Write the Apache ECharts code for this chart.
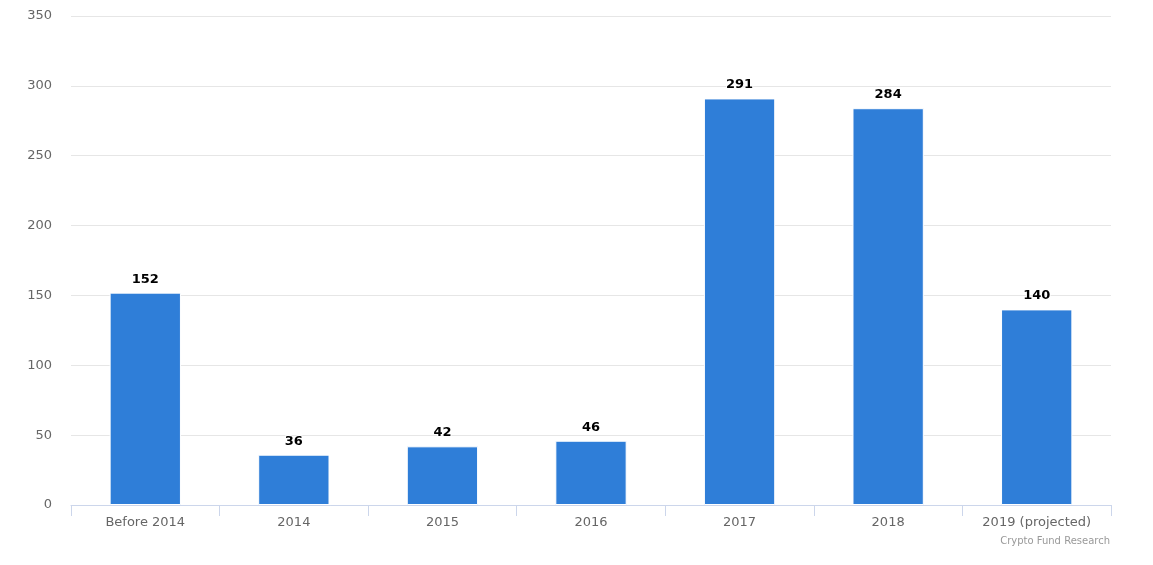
<!DOCTYPE html>
<html>
<head>
<meta charset="utf-8">
<script src="https://cdn.jsdelivr.net/npm/echarts@6/dist/echarts.min.js"></script>
<style>
html,body{margin:0;padding:0;background:#fff;}
#chart{width:1153px;height:565px;}
</style>
</head>
<body>
<div id="chart"></div>
<script>
const categories = ['Before 2014', '2014', '2015', '2016', '2017', '2018', '2019 (projected)'];
const values = [152, 36, 42, 46, 291, 284, 140];
const yMin = 0, yMax = 350, yStep = 50;
const creditText = 'Crypto Fund Research';

const chart = echarts.init(document.getElementById('chart'), null, {renderer: 'canvas'});
chart.setOption({
  animation: false,
  backgroundColor: '#ffffff',
  textStyle: {fontFamily: 'DejaVu Sans'},
  grid: {left: 71, right: 42, top: 16, bottom: 60, containLabel: false},
  graphic: [{
    type: 'text', right: 43, top: 536,
    style: {text: creditText, fill: '#999999', font: '10px "DejaVu Sans"', textAlign: 'right'}
  }],
  xAxis: {
    type: 'category',
    data: categories,
    axisLine: {show: true, lineStyle: {color: '#ccd6eb', width: 1}},
    axisTick: {show: true, length: 11, alignWithLabel: false, lineStyle: {color: '#ccd6eb'}},
    axisLabel: {color: '#666666', fontSize: 13, margin: 11, fontFamily: 'DejaVu Sans', interval: 0},
    splitLine: {show: false}
  },
  yAxis: {
    type: 'value',
    min: yMin, max: yMax, interval: yStep,
    axisLine: {show: false},
    axisTick: {show: false},
    axisLabel: {color: '#666666', fontSize: 13, margin: 19, fontFamily: 'DejaVu Sans'},
    splitLine: {show: true, lineStyle: {color: '#e6e6e6', width: 1}}
  },
  series: [{
    type: 'bar',
    data: values,
    barWidth: '48%',
    itemStyle: {color: '#2f7ed8', borderColor: '#ffffff', borderWidth: 1},
    label: {
      show: true, position: 'top', distance: 7,
      color: '#000000', fontSize: 13, fontWeight: 'bold', fontFamily: 'DejaVu Sans',
      textBorderColor: '#ffffff', textBorderWidth: 2
    }
  }]
});
</script>
</body>
</html>
